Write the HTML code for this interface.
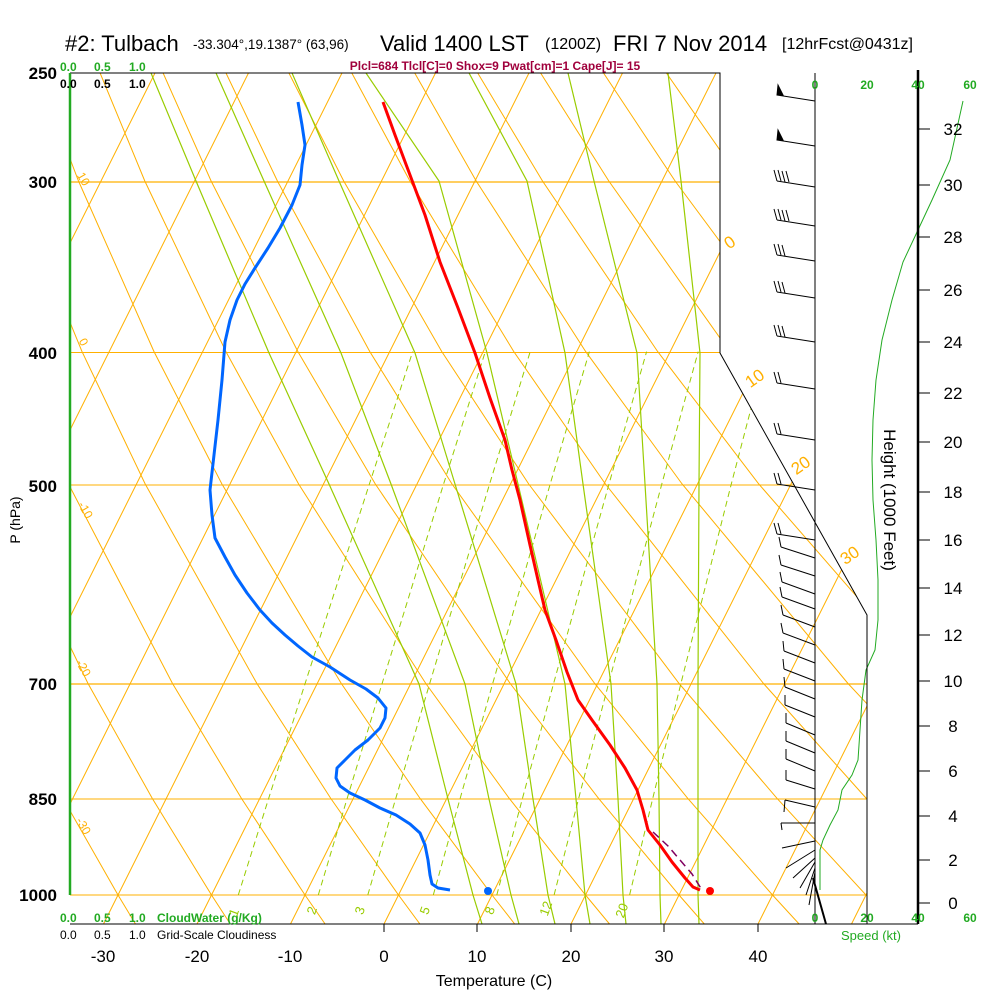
<!DOCTYPE html>
<html><head><meta charset="utf-8"><style>
html,body{margin:0;padding:0;background:#fff;}
svg{display:block;font-family:"Liberation Sans",sans-serif;}
</style></head><body>
<svg width="1000" height="1000" viewBox="0 0 1000 1000" xmlns="http://www.w3.org/2000/svg">
<defs><clipPath id="c"><polygon points="70,73 720,73 720,353 867,615 867,924 70,924"/></clipPath></defs>
<g clip-path="url(#c)" fill="none">
<!-- isobars -->
<g stroke="#ffb000" stroke-width="1">
<line x1="70" y1="73" x2="900" y2="73"/>
<line x1="70" y1="182" x2="900" y2="182" stroke-width="1.3"/>
<line x1="70" y1="352.5" x2="900" y2="352.5"/>
<line x1="70" y1="485" x2="900" y2="485"/>
<line x1="70" y1="684" x2="900" y2="684" stroke-width="1.3"/>
<line x1="70" y1="799" x2="900" y2="799"/>
<line x1="70" y1="895" x2="900" y2="895"/>
</g>
<!-- isotherms -->
<g stroke="#ffb000" stroke-width="1">
<line x1="-831.5" y1="924" x2="-406" y2="73"/>
<line x1="-738" y1="924" x2="-312.5" y2="73"/>
<line x1="-644.5" y1="924" x2="-219" y2="73"/>
<line x1="-551" y1="924" x2="-125.5" y2="73"/>
<line x1="-457.5" y1="924" x2="-32" y2="73"/>
<line x1="-364" y1="924" x2="61.5" y2="73"/>
<line x1="-270.5" y1="924" x2="155" y2="73"/>
<line x1="-177" y1="924" x2="248.5" y2="73"/>
<line x1="-83.5" y1="924" x2="342" y2="73"/>
<line x1="10" y1="924" x2="435.5" y2="73"/>
<line x1="103.5" y1="924" x2="529" y2="73"/>
<line x1="197" y1="924" x2="622.5" y2="73"/>
<line x1="290.5" y1="924" x2="716" y2="73"/>
<line x1="384" y1="924" x2="809.5" y2="73"/>
<line x1="477.5" y1="924" x2="903" y2="73"/>
<line x1="571" y1="924" x2="996.5" y2="73"/>
<line x1="664.5" y1="924" x2="1090" y2="73"/>
<line x1="758" y1="924" x2="1183.5" y2="73"/>
<line x1="851.5" y1="924" x2="1277" y2="73"/>
</g>
<!-- dry adiabats -->
<g stroke="#ffb000" stroke-width="1">
<polyline points="40.7,924 24.5,895 -26.1,798.6 -80.9,683.5 -161.6,484 -205.8,351.6"/>
<polyline points="135.5,924 118,895 63.1,798.6 3.6,683.5 -84.9,484 -133.9,351.6"/>
<polyline points="230.3,924 211.5,895 152.4,798.6 88,683.5 -8.2,484 -61.9,351.6"/>
<polyline points="325.1,924 305,895 241.6,798.6 172.5,683.5 68.5,484 10,351.6 -54.1,181 -88.6,73"/>
<polyline points="419.9,924 398.5,895 330.9,798.6 256.9,683.5 145.2,484 82,351.6 12.2,181 -25.7,73"/>
<polyline points="514.7,924 492,895 420.2,798.6 341.3,683.5 221.9,484 154,351.6 78.5,181 37.2,73"/>
<polyline points="609.5,924 585.5,895 509.4,798.6 425.8,683.5 298.6,484 225.9,351.6 144.8,181 100.1,73"/>
<polyline points="704.3,924 679,895 598.7,798.6 510.2,683.5 375.3,484 297.9,351.6 211.1,181 163.1,73"/>
<polyline points="799.1,924 772.5,895 687.9,798.6 594.7,683.5 452,484 369.8,351.6 277.4,181 226,73"/>
<polyline points="893.9,924 866,895 777.2,798.6 679.1,683.5 528.7,484 441.8,351.6 343.7,181 288.9,73"/>
<polyline points="988.8,924 959.5,895 866.5,798.6 763.5,683.5 605.4,484 513.8,351.6 409.9,181 351.8,73"/>
<polyline points="955.7,798.6 848,683.5 682.1,484 585.7,351.6 476.2,181 414.7,73"/>
<polyline points="932.4,683.5 758.8,484 657.7,351.6 542.5,181 477.7,73"/>
<polyline points="1016.9,683.5 835.5,484 729.6,351.6 608.8,181 540.6,73"/>
<polyline points="912.2,484 801.6,351.6 675.1,181 603.5,73"/>
<polyline points="988.9,484 873.6,351.6 741.4,181 666.4,73"/>
<polyline points="945.5,351.6 807.7,181 729.4,73"/>
</g>
<!-- moist adiabats -->
<g stroke="#99cc00" stroke-width="1.2">
<polyline points="699,924 698,895 698,799 698,684 699,484 700,353 681,181 668,73"/>
<polyline points="661,924 660,895 659,799 657,684 645,484 637,353 594,181 568,73"/>
<polyline points="626,924 623,895 618,799 611,684 583,484 565,353 527,181 469,73"/>
<polyline points="590,924 585,895 576,799 565,684 518,484 487,353 439,181 366,73"/>
<polyline points="555,924 548,895 533,799 516,684 455,484 415,353 339,181 292,73"/>
<polyline points="519,924 511,895 489,799 465,684 391,484 341,353 264,181 216,73"/>
<polyline points="482,924 473,895 448,799 419,684 329,484 269,353 196,181 151,73"/>
</g>
<!-- mixing ratio -->
<g stroke="#99cc00" stroke-width="1" stroke-dasharray="6,4">
<polyline points="238.3,895 268.6,798.6 305.1,683.5 369.4,484 412.7,351.6"/>
<polyline points="318.3,895 347.1,798.6 382.1,683.5 443.6,484 485.3,351.6"/>
<polyline points="367.8,895 395.7,798.6 429.7,683.5 489.6,484 530.2,351.6"/>
<polyline points="433.3,895 460.1,798.6 492.7,683.5 550.2,484 589.4,351.6"/>
<polyline points="496.8,895 522.4,798.6 553.6,683.5 609,484 646.6,351.6"/>
<polyline points="554.1,895 578.6,798.6 608.6,683.5 661.8,484 698.2,351.6"/>
<polyline points="629.6,895 652.7,798.6 680.9,683.5 731.3,484 765.9,351.6"/>
</g>
</g>
<!-- profiles -->
<polyline fill="none" stroke="#0066ff" stroke-width="3" stroke-linejoin="round" points="298,102 302,125 305,145 302,165 300,185 292,205 280,228 268,248 255,268 245,284 237,300 230,320 225,342 222,380 218,420 214,455 210,490 212,515 215,538 225,557 235,575 247,593 260,610 272,623 285,635 298,646 312,657 330,667 350,680 366,689 378,698 386,708 385,718 380,728 368,740 355,750 345,760 337,768 336,778 340,786 350,793 365,800 380,808 396,815 410,824 420,833 425,845 428,860 430,875 432,884 438,888 450,890"/>
<polyline fill="none" stroke="#ff0000" stroke-width="3" stroke-linejoin="round" points="383,102 395,135 410,175 425,215 440,262 458,308 475,353 490,398 505,440 512,470 520,500 530,545 538,580 545,610 556,640 567,672 578,700 592,720 610,745 625,768 637,790 643,810 648,830 660,845 672,862 685,878 693,887 700,890"/>
<polyline fill="none" stroke="#800060" stroke-width="1.5" stroke-dasharray="8,5" points="653,832 668,846 680,860 692,874 702,890"/>
<circle cx="710" cy="891" r="4" fill="#ff0000"/>
<circle cx="488" cy="891" r="4" fill="#0066ff"/>
<!-- wind speed -->
<polyline fill="none" stroke="#22aa22" stroke-width="1" points="963,101 950,160 932,200 918,230 903,262 892,300 882,340 876,380 873,420 872,460 873,500 876,540 878,580 878,620 875,650 866,670 862,700 860,730 858,760 852,775 842,790 838,810 830,825 823,840 820,850 820,890"/>
<!-- frame -->
<g stroke="#000" fill="none" stroke-width="1">
<polyline points="70,73 720,73 720,353 867,615 867,924"/>
<line x1="70" y1="924" x2="918" y2="924"/>
<line x1="815" y1="73" x2="815" y2="924"/>
<line x1="384" y1="924" x2="384" y2="932"/><line x1="477" y1="924" x2="477" y2="932"/><line x1="571" y1="924" x2="571" y2="932"/><line x1="664" y1="924" x2="664" y2="932"/><line x1="758" y1="924" x2="758" y2="932"/>
</g>
<!-- wind barbs -->
<g stroke="#000" stroke-width="1" fill="none">
<line x1="815" y1="101" x2="777" y2="95"/><polygon points="777,95 783,95 778,85" fill="#000"/>
<line x1="815" y1="146" x2="777" y2="140"/><polygon points="777,140 783,140 778,130" fill="#000"/>
<line x1="815" y1="187" x2="777" y2="181"/><path d="M777 181 L774 170 M781 181 L778 170 M785 182 L782 171 M789 182 L786 171"/>
<line x1="815" y1="226" x2="777" y2="220"/><path d="M777 220 L774 209 M781 220 L778 209 M785 221 L782 210 M789 221 L786 210"/>
<line x1="815" y1="261" x2="777" y2="255"/><path d="M777 255 L774 244 M781 255 L778 244 M785 256 L782 245"/>
<line x1="815" y1="298" x2="777" y2="292"/><path d="M777 292 L774 281 M781 292 L778 281 M785 293 L782 282"/>
<line x1="815" y1="342" x2="777" y2="336"/><path d="M777 336 L774 325 M781 336 L778 325 M785 337 L782 326"/>
<line x1="815" y1="389" x2="777" y2="383"/><path d="M777 383 L774 372 M781 383 L778 372"/>
<line x1="815" y1="440" x2="777" y2="434"/><path d="M777 434 L774 423 M781 434 L778 423"/>
<line x1="815" y1="490" x2="777" y2="484"/><path d="M777 484 L774 473 M781 484 L778 473"/>
<line x1="815" y1="540" x2="777" y2="534"/><path d="M777 534 L774 523 M781 534 L778 523"/>
<line x1="815" y1="558" x2="781" y2="547"/><path d="M781 547 L779 537"/>
<line x1="815" y1="576" x2="781" y2="565"/><path d="M781 565 L779 555"/>
<line x1="815" y1="594" x2="782" y2="582"/><path d="M782 582 L780 572"/>
<line x1="815" y1="609" x2="782" y2="597"/><path d="M782 597 L780 587"/>
<line x1="815" y1="627" x2="783" y2="615"/><path d="M783 615 L781 605"/>
<line x1="815" y1="645" x2="783" y2="633"/><path d="M783 633 L781 623"/>
<line x1="815" y1="663" x2="784" y2="651"/><path d="M784 651 L783 641"/>
<line x1="815" y1="681" x2="784" y2="669"/><path d="M784 669 L783 659"/>
<line x1="815" y1="699" x2="785" y2="687"/><path d="M785 687 L784 677"/>
<line x1="815" y1="717" x2="785" y2="705"/><path d="M785 705 L785 695"/>
<line x1="815" y1="735" x2="786" y2="723"/><path d="M786 723 L786 713"/>
<line x1="815" y1="753" x2="786" y2="741"/><path d="M786 741 L786 731"/>
<line x1="815" y1="771" x2="786" y2="759"/><path d="M786 759 L786 749"/>
<line x1="815" y1="789" x2="786" y2="780"/><path d="M786 780 L786 770"/>
<line x1="815" y1="807" x2="785" y2="800"/><path d="M785 800 L784 812"/>
<line x1="815" y1="823" x2="781" y2="823"/><path d="M781 823 L782 830"/>
<line x1="815" y1="841" x2="782" y2="848"/>
<line x1="815" y1="850" x2="786" y2="868"/>
<line x1="815" y1="858" x2="793" y2="878"/>
<line x1="815" y1="862" x2="800" y2="888"/>
<line x1="815" y1="868" x2="806" y2="895"/>
<line x1="815" y1="872" x2="809" y2="905"/>
<line x1="813" y1="878" x2="826" y2="924" stroke-width="2"/>
</g>
<line x1="70" y1="73" x2="70" y2="895" stroke="#22aa22" stroke-width="2.5"/>
<line x1="918" y1="70" x2="918" y2="924" stroke="#000" stroke-width="2.5"/>
<g stroke="#000">
<line x1="918" y1="129" x2="930" y2="129"/><line x1="918" y1="185" x2="930" y2="185"/><line x1="918" y1="237" x2="930" y2="237"/><line x1="918" y1="290" x2="930" y2="290"/><line x1="918" y1="342" x2="930" y2="342"/><line x1="918" y1="393" x2="930" y2="393"/><line x1="918" y1="442" x2="930" y2="442"/><line x1="918" y1="492" x2="930" y2="492"/><line x1="918" y1="540" x2="930" y2="540"/><line x1="918" y1="588" x2="930" y2="588"/><line x1="918" y1="635" x2="930" y2="635"/><line x1="918" y1="681" x2="930" y2="681"/><line x1="918" y1="726" x2="930" y2="726"/><line x1="918" y1="771" x2="930" y2="771"/><line x1="918" y1="816" x2="930" y2="816"/><line x1="918" y1="860" x2="930" y2="860"/><line x1="918" y1="903" x2="930" y2="903"/>
</g>
<g font-size="17" text-anchor="middle">
<text x="953" y="135">32</text><text x="953" y="191">30</text><text x="953" y="243">28</text><text x="953" y="296">26</text><text x="953" y="348">24</text><text x="953" y="399">22</text><text x="953" y="448">20</text><text x="953" y="498">18</text><text x="953" y="546">16</text><text x="953" y="594">14</text><text x="953" y="641">12</text><text x="953" y="687">10</text><text x="953" y="732">8</text><text x="953" y="777">6</text><text x="953" y="822">4</text><text x="953" y="866">2</text><text x="953" y="909">0</text>
</g>
<!-- titles -->
<text x="65" y="51" font-size="22">#2: Tulbach</text>
<text x="193" y="49" font-size="13.5">-33.304°,19.1387° (63,96)</text>
<text x="380" y="51" font-size="22">Valid 1400 LST</text>
<text x="545" y="49" font-size="16">(1200Z)</text>
<text x="613" y="51" font-size="22">FRI 7 Nov 2014</text>
<text x="782" y="49" font-size="16">[12hrFcst@0431z]</text>
<text x="495" y="70" font-size="12" font-weight="bold" fill="#a0003c" text-anchor="middle">Plcl=684 Tlcl[C]=0 Shox=9 Pwat[cm]=1 Cape[J]= 15</text>
<g font-size="12" font-weight="bold" fill="#22aa22"><text x="60" y="71">0.0</text><text x="94" y="71">0.5</text><text x="129" y="71">1.0</text></g>
<g font-size="12" font-weight="bold" fill="#000"><text x="60" y="88">0.0</text><text x="94" y="88">0.5</text><text x="129" y="88">1.0</text></g>
<g font-size="12" font-weight="bold" fill="#22aa22"><text x="60" y="922">0.0</text><text x="94" y="922">0.5</text><text x="129" y="922">1.0</text><text x="157" y="922">CloudWater (g/Kg)</text></g>
<g font-size="12" fill="#000"><text x="60" y="939">0.0</text><text x="94" y="939">0.5</text><text x="129" y="939">1.0</text><text x="157" y="939">Grid-Scale Cloudiness</text></g>
<g font-size="17" font-weight="bold" text-anchor="end"><text x="57" y="79">250</text><text x="57" y="188">300</text><text x="57" y="359">400</text><text x="57" y="492">500</text><text x="57" y="690">700</text><text x="57" y="805">850</text><text x="57" y="901">1000</text></g>
<text transform="translate(20,520) rotate(-90)" font-size="14" text-anchor="middle">P (hPa)</text>
<g font-size="17" text-anchor="middle"><text x="103" y="962">-30</text><text x="197" y="962">-20</text><text x="290" y="962">-10</text><text x="384" y="962">0</text><text x="477" y="962">10</text><text x="571" y="962">20</text><text x="664" y="962">30</text><text x="758" y="962">40</text></g>
<text x="494" y="986" font-size="16" text-anchor="middle">Temperature (C)</text>
<g font-size="12" font-weight="bold" fill="#22aa22" text-anchor="middle"><text x="815" y="89">0</text><text x="867" y="89">20</text><text x="918" y="89">40</text><text x="970" y="89">60</text>
<text x="815" y="922">0</text><text x="867" y="922">20</text><text x="918" y="922">40</text><text x="970" y="922">60</text></g>
<text x="871" y="940" font-size="13" fill="#22aa22" text-anchor="middle">Speed (kt)</text>
<text transform="translate(884,500) rotate(90)" font-size="17" text-anchor="middle">Height (1000 Feet)</text>
<g font-size="17" fill="#ffb000" text-anchor="middle">
<text transform="translate(733,247) rotate(-35)">0</text>
<text transform="translate(758,383) rotate(-35)">10</text>
<text transform="translate(804,470) rotate(-35)">20</text>
<text transform="translate(853,560) rotate(-35)">30</text>
</g>
<g font-size="12" fill="#ffb000" text-anchor="middle">
<text transform="translate(80,181) rotate(60)">10</text>
<text transform="translate(80,344) rotate(60)">0</text>
<text transform="translate(82,512) rotate(60)">-10</text>
<text transform="translate(80,670) rotate(60)">-20</text>
<text transform="translate(80,828) rotate(60)">-30</text>
</g>
<g font-size="13" fill="#99cc00" text-anchor="middle">
<text transform="translate(238,914) rotate(-70)">1</text>
<text transform="translate(316,912) rotate(-70)">2</text>
<text transform="translate(364,912) rotate(-70)">3</text>
<text transform="translate(429,912) rotate(-70)">5</text>
<text transform="translate(494,912) rotate(-70)">8</text>
<text transform="translate(550,910) rotate(-70)">12</text>
<text transform="translate(626,912) rotate(-70)">20</text>
</g>
</svg>
</body></html>
